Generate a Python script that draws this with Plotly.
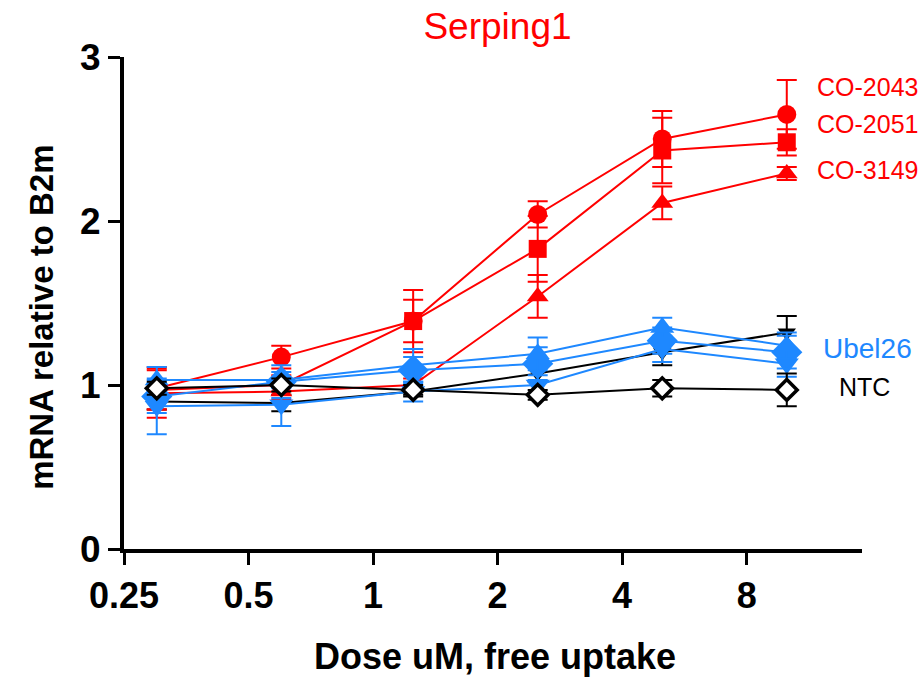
import plotly.graph_objects as go
import math

doses = [0.3, 0.6, 1.25, 2.5, 5, 10]

co2043 = [0.98, 1.17, 1.39, 2.04, 2.50, 2.65]
co2043_err = [0.13, 0.07, 0.19, 0.08, 0.17, 0.21]
co2051 = [0.97, 1.00, 1.39, 1.83, 2.43, 2.48]
co2051_err = [0.12, 0.06, 0.13, 0.20, 0.20, 0.08]
co3149 = [0.95, 0.96, 1.00, 1.54, 2.11, 2.29]
co3149_err = [0.15, 0.05, 0.04, 0.13, 0.10, 0.04]

ubel_a = [1.03, 1.03, 1.12, 1.19, 1.35, 1.24]
ubel_a_err = [0.08, 0.05, 0.10, 0.10, 0.06, 0.08]
ubel_b = [0.93, 1.02, 1.09, 1.13, 1.27, 1.20]
ubel_b_err = [0.10, 0.10, 0.08, 0.10, 0.08, 0.10]
ubel_c = [0.87, 0.88, 0.96, 1.00, 1.22, 1.13]
ubel_c_err = [0.17, 0.13, 0.06, 0.06, 0.08, 0.08]

ntc = [0.98, 1.00, 0.97, 0.94, 0.98, 0.97]
ntc_err = [0.04, 0.04, 0.03, 0.03, 0.05, 0.10]
ctrl2 = [0.90, 0.89, 0.96, 1.07, 1.20, 1.32]
ctrl2_err = [0.05, 0.05, 0.03, 0.05, 0.08, 0.10]

x_ticks = [0.25, 0.5, 1, 2, 4, 8]
x_tick_labels = ["0.25", "0.5", "1", "2", "4", "8"]
y_ticks = [0, 1, 2, 3]

RED = "#ff0000"
BLUE = "#1e88ff"
BLACK = "#000000"
FONT = "Arial, Liberation Sans, sans-serif"

fig = go.Figure()

def add(y, err, color, symbol, size, fill=True):
    fig.add_trace(go.Scatter(
        x=doses, y=y, mode="lines+markers",
        line=dict(color=color, width=2),
        marker=dict(symbol=symbol, size=size,
                    color=color if fill else "white",
                    line=dict(color=color, width=3.5 if not fill else 0)),
        error_y=dict(type="data", array=err, visible=True, color=color,
                     thickness=2, width=10),
        showlegend=False, cliponaxis=False))

add(ctrl2, ctrl2_err, BLACK, "triangle-down", 16)
add(co3149, co3149_err, RED, "triangle-up", 19)
add(co2051, co2051_err, RED, "square", 18)
add(co2043, co2043_err, RED, "circle", 19)
add(ubel_c, ubel_c_err, BLUE, "triangle-down", 21)
add(ubel_b, ubel_b_err, BLUE, "diamond", 24)
add(ubel_a, ubel_a_err, BLUE, "triangle-up", 21)
add(ntc, ntc_err, BLACK, "diamond", 16, fill=False)

fig.update_layout(
    width=923, height=677,
    margin=dict(l=124, r=61, t=57, b=128),
    plot_bgcolor="white", paper_bgcolor="white",
    font=dict(family=FONT, color="black"),
    title=dict(text="Serping1", font=dict(size=37, color=RED, family=FONT),
               x=0.539, xanchor="center", y=0.962, yanchor="middle"),
    xaxis=dict(type="log", range=[math.log10(0.25), math.log10(15.2)],
               tickvals=x_ticks, ticktext=x_tick_labels,
               ticks="outside", ticklen=12, tickwidth=3, tickcolor="black",
               showline=True, linewidth=4, linecolor="black",
               showgrid=False, zeroline=False,
               tickfont=dict(size=36, family=FONT, weight="bold")),
    yaxis=dict(range=[0, 3], tickvals=y_ticks,
               ticks="outside", ticklen=12, tickwidth=3, tickcolor="black",
               showline=True, linewidth=4, linecolor="black",
               showgrid=False, zeroline=False,
               tickfont=dict(size=37, family=FONT, weight="bold")),
)

anns = [
    ("CO-2043", 0.936, 2.82, RED, 25),
    ("CO-2051", 0.936, 2.59, RED, 25),
    ("CO-3149", 0.936, 2.31, RED, 25),
    ("Ubel26", 0.945, 1.22, BLUE, 28),
    ("NTC", 0.966, 0.99, BLACK, 25),
]
for text, xp, yv, c, s in anns:
    fig.add_annotation(text=text, xref="paper", x=xp, xanchor="left",
                       yref="y", y=yv, yanchor="middle", showarrow=False,
                       font=dict(size=s, color=c, family=FONT))

fig.add_annotation(text="<b>mRNA relative to B2m</b>", xref="paper", x=-0.111,
                   xanchor="center", yref="paper", y=0.47, yanchor="middle",
                   textangle=-90, showarrow=False,
                   font=dict(size=33, family=FONT, color="black"))
fig.add_annotation(text="<b>Dose uM, free uptake</b>", xref="paper", x=0.503,
                   xanchor="center", yref="paper", y=-0.219, yanchor="middle",
                   showarrow=False, font=dict(size=36, family=FONT, color="black"))

fig.write_html("out.html")
